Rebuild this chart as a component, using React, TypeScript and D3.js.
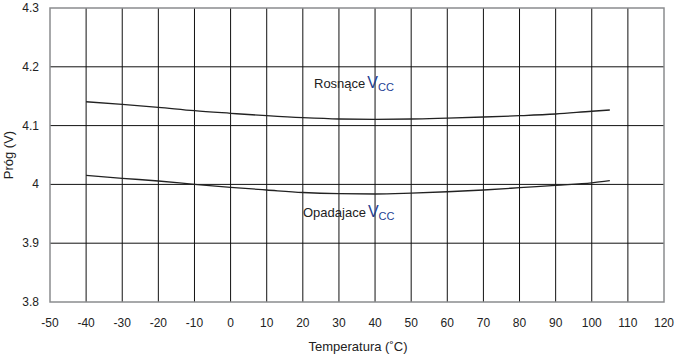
import React from "react";
import * as d3 from "d3";

const temps = [-40, -30, -20, -10, 0, 10, 20, 30, 40, 50, 60, 70, 80, 90, 100, 105];
const rising = [4.1406, 4.1362, 4.1311, 4.1253, 4.1209, 4.1168, 4.1134, 4.1112, 4.1107, 4.1112, 4.1128, 4.1146, 4.1168, 4.1197, 4.1244, 4.1265];
const falling = [4.0155, 4.0104, 4.0058, 4.0002, 3.9950, 3.9905, 3.9862, 3.9842, 3.9837, 3.9852, 3.9875, 3.9905, 3.9944, 3.9985, 4.0025, 4.0063];
const xTicks = [-50, -40, -30, -20, -10, 0, 10, 20, 30, 40, 50, 60, 70, 80, 90, 100, 110, 120];
const yTicks = [3.8, 3.9, 4.0, 4.1, 4.2, 4.3];
const yTickLabels = ["3.8", "3.9", "4", "4.1", "4.2", "4.3"];

export default function App() {
  const W = 677, H = 355;
  const L = 50, R = 664, T = 8, B = 302;
  const x = d3.scaleLinear().domain([-50, 120]).range([L, R]);
  const y = d3.scaleLinear().domain([3.8, 4.3]).range([B, T]);
  const line = d3
    .line<number>()
    .x((_, i) => x(temps[i]))
    .y((d) => y(d))
    .curve(d3.curveMonotoneX);
  const font = "'Liberation Sans', Arial, sans-serif";
  const vcol = "#243f94";
  return (
    <svg width={W} height={H} style={{ position: "absolute", left: 0, top: 0 }} fontFamily={font}>
      <rect x={0} y={0} width={W} height={H} fill="#fff" />
      {xTicks.slice(1, -1).map((t) => (
        <line key={"vx" + t} x1={x(t)} x2={x(t)} y1={T} y2={B} stroke="#111" strokeWidth={1} />
      ))}
      {yTicks.slice(1, -1).map((t) => (
        <line key={"hy" + t} x1={L} x2={R} y1={y(t)} y2={y(t)} stroke="#111" strokeWidth={1} />
      ))}
      <rect x={L} y={T} width={R - L} height={B - T} fill="none" stroke="#8a8c8e" strokeWidth={1.5} />
      <path d={line(rising) || ""} fill="none" stroke="#222" strokeWidth={1.3} />
      <path d={line(falling) || ""} fill="none" stroke="#222" strokeWidth={1.3} />
      {xTicks.map((t) => (
        <text key={"xl" + t} x={x(t)} y={327} textAnchor="middle" fontSize={12} fill="#222">
          {t}
        </text>
      ))}
      {yTicks.map((t, i) => (
        <text key={"yl" + t} x={39} y={y(t) + 4} textAnchor="end" fontSize={12} fill="#222">
          {yTickLabels[i]}
        </text>
      ))}
      <text x={358} y={351} textAnchor="middle" fontSize={13} fill="#222">
        Temperatura (˚C)
      </text>
      <text transform="translate(13,155) rotate(-90)" textAnchor="middle" fontSize={13} fill="#222">
        Próg (V)
      </text>
      <text x={314} y={88} fontSize={13} fill="#222">
        Rosnące
        <tspan fontSize={16} fill={vcol} dx={2}>V</tspan>
        <tspan fontSize={11} fill={vcol} dy={3}>CC</tspan>
      </text>
      <text x={303} y={217} fontSize={13} fill="#222">
        Opadajace
        <tspan fontSize={16} fill={vcol} dx={2}>V</tspan>
        <tspan fontSize={11} fill={vcol} dy={3}>CC</tspan>
      </text>
    </svg>
  );
}
